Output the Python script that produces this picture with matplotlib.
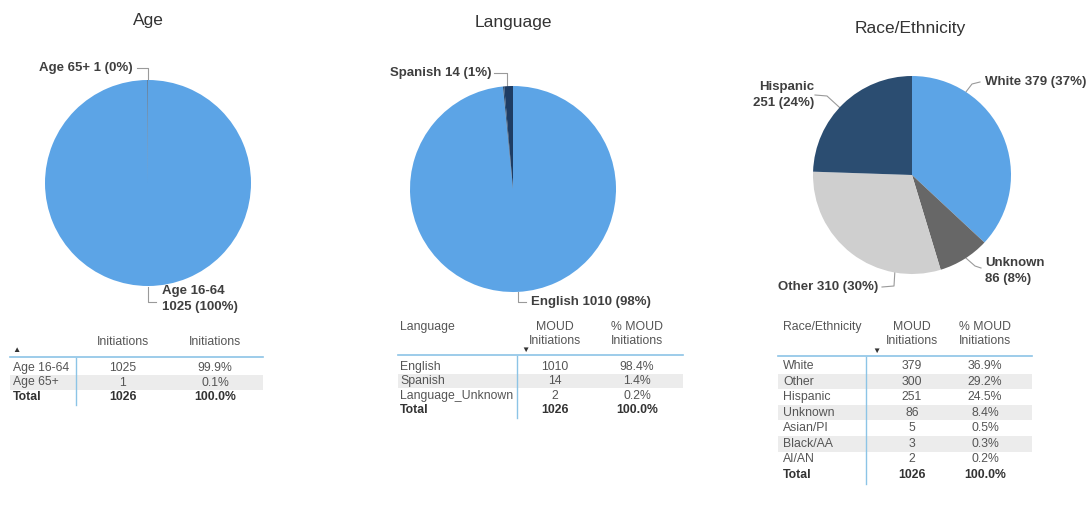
import numpy as np
import matplotlib.pyplot as plt
from matplotlib.patches import Rectangle

plt.rcParams['font.family'] = ['Liberation Sans', 'DejaVu Sans']

W, H = 1092, 508

# pie data
age_labels = ['Age 16-64', 'Age 65+']
age_counts = [1025, 1]

lang_labels = ['English', 'Language_Unknown', 'Spanish']
lang_counts = [1010, 2, 14]

race_pie_labels = ['White', 'Unknown', 'Other', 'Hispanic']
race_pie_counts = [379, 86, 310, 251]

# table data
age_rows = ['Age 16-64', 'Age 65+']
age_tab_counts = [1025, 1]
age_tab_pct = [99.9, 0.1]

lang_rows = ['English', 'Spanish', 'Language_Unknown']
lang_tab_counts = [1010, 14, 2]
lang_tab_pct = [98.4, 1.4, 0.2]

race_rows = ['White', 'Other', 'Hispanic', 'Unknown', 'Asian/PI', 'Black/AA', 'AI/AN']
race_tab_counts = [379, 300, 251, 86, 5, 3, 2]
race_tab_pct = [36.9, 29.2, 24.5, 8.4, 0.5, 0.3, 0.2]

BLUE = '#5ca4e6'
NAVY = '#2b4d71'
DNAVY = '#1e3c63'
DGRAY = '#676767'
LGRAY = '#cfcfcf'
TXT = '#3f3f3f'
LINE = '#9a9a9a'
TFS = 8.8

fig = plt.figure(figsize=(W / 100, H / 100), dpi=100)
bg = fig.add_axes([0, 0, 1, 1])
bg.set_xlim(0, W)
bg.set_ylim(H, 0)
bg.axis('off')


def pie_at(cx, cy, r, counts, colors):
    a = fig.add_axes([(cx - r) / W, 1 - (cy + r) / H, 2 * r / W, 2 * r / H])
    wedges, _ = a.pie(counts, colors=colors, startangle=90, counterclock=False,
                      radius=1, wedgeprops=dict(linewidth=0))
    a.set_xlim(-1, 1)
    a.set_ylim(-1, 1)
    a.axis('off')
    return wedges


def edge_point(cx, cy, r, ang):
    t = np.radians(ang)
    return cx + r * np.cos(t), cy - r * np.sin(t)


def leader(pts):
    xs, ys = zip(*pts)
    bg.plot(xs, ys, color=LINE, lw=0.8)


def pie_label(x, y, s, ha='left'):
    bg.text(x, y, s, ha=ha, va='center', fontsize=9.5, fontweight='bold',
            color=TXT, linespacing=1.35)


def fmt(lbl, n, total, sep=' '):
    return '%s%s%d (%d%%)' % (lbl, sep, n, round(100 * n / total))


def title(x, y, s):
    bg.text(x, y, s, ha='center', va='center', fontsize=12.5, color='#333333')


# Age
title(148, 20, 'Age')
tot = sum(age_counts)
pie_at(148, 183, 103, age_counts, [BLUE, NAVY])
leader([(137, 68), (148, 68), (148, 80)])
pie_label(133, 68, fmt(age_labels[1], age_counts[1], tot), ha='right')
leader([(148, 287), (148, 302), (156, 302)])
pie_label(162, 299, fmt(age_labels[0], age_counts[0], tot, sep='\n'))

# Language
title(513, 22, 'Language')
tot = sum(lang_counts)
pie_at(513, 189, 103, lang_counts, [BLUE, NAVY, DNAVY])
leader([(494, 73), (507, 73), (507, 86)])
pie_label(491, 73, fmt(lang_labels[2], lang_counts[2], tot), ha='right')
leader([(518, 292), (518, 302), (526, 302)])
pie_label(531, 302, fmt(lang_labels[0], lang_counts[0], tot))

# Race/Ethnicity
title(910, 28, 'Race/Ethnicity')
tot = sum(race_pie_counts)
cx, cy, r = 912, 175, 99
pie_at(cx, cy, r, race_pie_counts, [BLUE, DGRAY, LGRAY, NAVY])
x0, y0 = edge_point(cx, cy, r, 57)
leader([(x0, y0), (972, 84), (980, 82)])
pie_label(985, 82, fmt(race_pie_labels[0], race_pie_counts[0], tot))
x0, y0 = edge_point(cx, cy, r, -57)
leader([(x0, y0), (975, 266), (981, 268)])
pie_label(985, 271, fmt(race_pie_labels[1], race_pie_counts[1], tot, sep='\n'))
x0, y0 = edge_point(cx, cy, r, -100)
leader([(x0, y0), (894, 286), (882, 287)])
pie_label(878, 287, fmt(race_pie_labels[2], race_pie_counts[2], tot), ha='right')
x0, y0 = edge_point(cx, cy, r, 137)
leader([(x0, y0), (827, 96), (815, 95)])
pie_label(814, 95, fmt(race_pie_labels[3], race_pie_counts[3], tot, sep='\n'),
          ha='right')


def cell(x, y, s, ha='center', bold=False):
    bg.text(x, y, s, ha=ha, va='center', fontsize=TFS,
            fontweight='bold' if bold else 'normal',
            color='#333333' if bold else '#555555')


def table(x0, x1, xdiv, xlab, xc1, xc2, yline, row_y, step, rows, counts, pcts):
    bg.plot([x0, x1], [yline, yline], color='#8cc4e6', lw=1.2)
    for i, (lbl, n, p) in enumerate(zip(rows, counts, pcts)):
        y = row_y + i * step
        if i % 2 == 1:
            bg.add_patch(Rectangle((x0, y - step / 2), x1 - x0, step,
                                   color='#ececec', lw=0, zorder=0))
        cell(xlab, y, lbl, ha='left')
        cell(xc1, y, str(n))
        cell(xc2, y, '%.1f%%' % p)
    y = row_y + len(rows) * step
    cell(xlab, y, 'Total', ha='left', bold=True)
    cell(xc1, y, str(sum(counts)), bold=True)
    cell(xc2, y, '%.1f%%' % round(sum(pcts), 1), bold=True)
    bg.plot([xdiv, xdiv], [yline + 1, y + step / 2 + 1], color='#8cc4e6', lw=1)


def two_line_header(x, y, top, bottom):
    cell(x, y, top)
    cell(x, y + 14, bottom)


def sort_mark(x, y, s):
    bg.text(x, y, s, ha='center', va='center', fontsize=6, color='#333333')


# Age table
cell(123, 342, 'Initiations')
cell(215, 342, 'Initiations')
sort_mark(16, 351, '\u25b2')
table(10, 263, 76, 13, 123, 215, 357, 368, 14.5, age_rows, age_tab_counts, age_tab_pct)

# Language table
cell(400, 327, 'Language', ha='left')
two_line_header(555, 327, 'MOUD', 'Initiations')
two_line_header(637, 327, '% MOUD', 'Initiations')
sort_mark(525, 350, '\u25bc')
table(398, 683, 517, 400, 555, 637, 355, 367, 14.3, lang_rows, lang_tab_counts,
      lang_tab_pct)

# Race/Ethnicity table
cell(783, 327, 'Race/Ethnicity', ha='left')
two_line_header(912, 327, 'MOUD', 'Initiations')
two_line_header(985, 327, '% MOUD', 'Initiations')
sort_mark(876, 351, '\u25bc')
table(778, 1032, 866, 783, 912, 985, 356, 366, 15.57, race_rows, race_tab_counts,
      race_tab_pct)

fig.savefig('out.png', dpi=100)
